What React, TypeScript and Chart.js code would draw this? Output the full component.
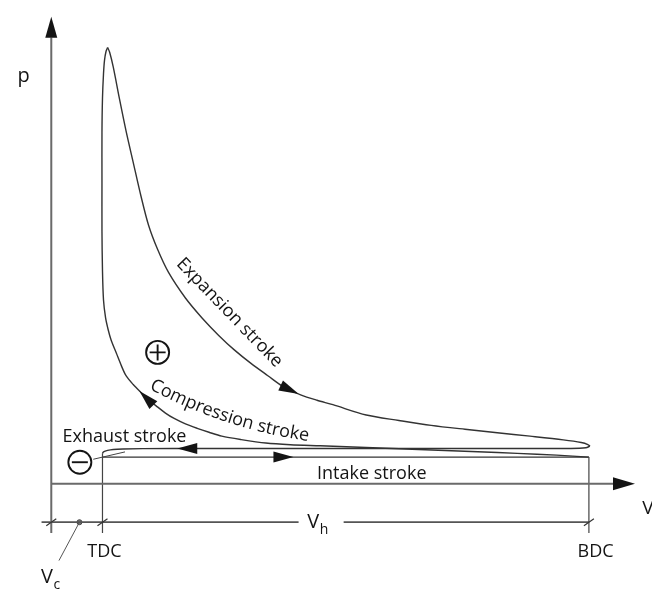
import React, { useEffect, useRef } from "react";
import { Chart, registerables } from "chart.js";

Chart.register(...registerables);

// Volume in multiples of the clearance volume Vc (TDC = 1, BDC = 10.5); pressure in arbitrary units.
const V_TDC = 1;
const V_BDC = 10.5;

// Compression: from BDC up the curve to TDC and the combustion peak
const compressionV = [10.5, 9.87, 9.1, 8.33, 7.56, 6.79, 6.02, 5.25, 4.67, 4.19, 3.71, 3.33, 3.08, 2.85, 2.62, 2.4, 2.23, 2.08, 1.9, 1.75, 1.6, 1.46, 1.37, 1.27, 1.17, 1.11, 1.06, 1.02, 1.0, 0.99, 0.99, 0.99, 1.0, 1.02, 1.04, 1.07, 1.1];
const compressionP = [2.72, 2.92, 3.1, 3.27, 3.42, 3.57, 3.72, 3.87, 3.98, 4.15, 4.5, 4.85, 5.25, 5.65, 6.1, 6.65, 7.2, 7.8, 8.55, 9.3, 10.1, 11.0, 12.0, 13.3, 14.6, 15.7, 16.9, 18.7, 21.7, 25.7, 30.7, 35.7, 39.2, 41.7, 43.1, 44.0, 44.37];

// Expansion: from the peak down to BDC
const expansionV = [1.1, 1.14, 1.21, 1.33, 1.46, 1.6, 1.75, 1.9, 2.08, 2.29, 2.62, 2.94, 3.27, 3.58, 3.9, 4.23, 4.54, 4.87, 5.19, 5.5, 6.15, 6.79, 7.42, 8.08, 8.71, 9.35, 10.0, 10.35, 10.48, 10.52];
const expansionP = [44.37, 43.9, 42.4, 39.2, 35.9, 32.7, 29.3, 26.3, 23.8, 21.5, 18.9, 16.9, 15.1, 13.6, 12.25, 11.0, 9.85, 9.05, 8.5, 8.05, 7.0, 6.45, 5.95, 5.55, 5.2, 4.85, 4.47, 4.2, 4.0, 3.83];

// Exhaust: from BDC back to TDC
const exhaustV = [10.52, 10.44, 10.15, 8.71, 6.79, 4.87, 2.94, 1.79, 1.4, 1.21, 1.1, 1.02, 1.0];
const exhaustP = [3.83, 3.67, 3.6, 3.6, 3.6, 3.6, 3.6, 3.58, 3.55, 3.5, 3.4, 3.25, 3.1];

// Intake: from TDC to BDC
const intakeV = [1.0, 10.5];
const intakeP = [2.72, 2.72];

const strokeLabels = ["Expansion stroke", "Compression stroke", "Exhaust stroke", "Intake stroke"];
const deadCentreLabels = ["TDC", "BDC"];

const DIM_P = -3.9; // level of the dimension line below the V axis
const EXT_P = -5.0; // lower end of the extension lines

const INK = "#141414";
const CURVE = "#333333";
const AXIS = "#6a6a6a";
const FONT = (size: number) => `${size}px "Open Sans", sans-serif`;

const pts = (vs: number[], ps: number[]) => vs.map((v, i) => ({ x: v, y: ps[i] }));

type Label = {
  text: string;
  v: number;
  p: number;
  size: number;
  align?: CanvasTextAlign;
  baseline?: CanvasTextBaseline;
  angle?: number;
  sub?: string;
};

const labels: Label[] = [
  { text: "p", v: -0.66, p: 40.9, size: 20, align: "left" },
  { text: "V", v: 11.54, p: -3.1, size: 19, align: "left" },
  { text: strokeLabels[2], v: 0.22, p: 4.3, size: 18, align: "left" },
  { text: strokeLabels[3], v: 5.19, p: 0.5, size: 18, align: "left" },
  { text: deadCentreLabels[0], v: 1.04, p: -7.4, size: 18, align: "center" },
  { text: deadCentreLabels[1], v: 10.63, p: -7.4, size: 18, align: "center" },
  { text: "V", sub: "h", v: 5.0, p: -4.5, size: 20, align: "left" },
  { text: "V", sub: "c", v: -0.2, p: -10.1, size: 20, align: "left" },
  { text: strokeLabels[0], v: 3.48, p: 17.4, size: 18, align: "center", baseline: "middle", angle: 46 },
];

// Baseline curve for the compression label (quadratic Bezier in V/p units)
const compressionLabelPath = [
  { v: 1.9, p: 9.7 },
  { v: 3.377, p: 5.59 },
  { v: 5.03, p: 4.35 },
];

const curveArrows = [
  { dataset: "expansion", v: 4.83, p: 9.1 },
  { dataset: "compression", v: 1.73, p: 9.5 },
  { dataset: "exhaust", v: 2.46, p: 3.6 },
  { dataset: "intake", v: 4.73, p: 2.72 },
];

const signs = [
  { sign: "+", v: 2.077, p: 13.37 },
  { sign: "-", v: 0.558, p: 2.2 },
];

function arrowHead(ctx: CanvasRenderingContext2D, x: number, y: number, angle: number, len: number, half: number) {
  ctx.save();
  ctx.translate(x, y);
  ctx.rotate(angle);
  ctx.beginPath();
  ctx.moveTo(0, 0);
  ctx.lineTo(-len, -half);
  ctx.lineTo(-len, half);
  ctx.closePath();
  ctx.fill();
  ctx.restore();
}

const diagramPlugin = {
  id: "pvDiagram",
  afterDatasetsDraw(chart: any) {
    const ctx: CanvasRenderingContext2D = chart.ctx;
    const sx = chart.scales.x;
    const sy = chart.scales.y;
    const P = (v: number, p: number) => ({ x: sx.getPixelForValue(v), y: sy.getPixelForValue(p) });
    ctx.save();
    ctx.fillStyle = INK;
    ctx.strokeStyle = INK;

    // axis arrowheads
    const yTip = P(0, 47.5);
    arrowHead(ctx, yTip.x, yTip.y, -Math.PI / 2, 21, 6);
    const xTip = P(11.4, 0);
    arrowHead(ctx, xTip.x, xTip.y, 0, 22, 6.5);

    // arrowheads along the strokes
    curveArrows.forEach((a) => {
      const idx = chart.data.datasets.findIndex((d: any) => d.label === a.dataset);
      const el = chart.getDatasetMeta(idx).data;
      const t = P(a.v, a.p);
      let best = Infinity;
      let bx = t.x, by = t.y, ang = 0;
      for (let i = 0; i < el.length - 1; i++) {
        const x1 = el[i].x, y1 = el[i].y, x2 = el[i + 1].x, y2 = el[i + 1].y;
        const dx = x2 - x1, dy = y2 - y1;
        const l2 = dx * dx + dy * dy || 1;
        const u = Math.max(0, Math.min(1, ((t.x - x1) * dx + (t.y - y1) * dy) / l2));
        const qx = x1 + u * dx, qy = y1 + u * dy;
        const d = Math.hypot(qx - t.x, qy - t.y);
        if (d < best) {
          best = d;
          bx = qx;
          by = qy;
          ang = Math.atan2(dy, dx);
        }
      }
      arrowHead(ctx, bx, by, ang, 20, 5.5);
    });

    // dimension ticks
    ctx.lineWidth = 1.2;
    ctx.strokeStyle = "#333";
    [0, V_TDC, V_BDC].forEach((v) => {
      const q = P(v, DIM_P);
      ctx.beginPath();
      ctx.moveTo(q.x - 5, q.y + 3.5);
      ctx.lineTo(q.x + 5, q.y - 3.5);
      ctx.stroke();
    });

    // plus / minus work areas
    ctx.strokeStyle = INK;
    ctx.lineWidth = 1.9;
    signs.forEach((s) => {
      const c = P(s.v, s.p);
      const r = 11.5;
      ctx.beginPath();
      ctx.arc(c.x, c.y, r, 0, Math.PI * 2);
      ctx.stroke();
      ctx.beginPath();
      ctx.moveTo(c.x - 8, c.y);
      ctx.lineTo(c.x + 8, c.y);
      if (s.sign === "+") {
        ctx.moveTo(c.x, c.y - 8);
        ctx.lineTo(c.x, c.y + 8);
      }
      ctx.stroke();
    });

    // text labels
    ctx.fillStyle = INK;
    labels.forEach((l) => {
      const q = P(l.v, l.p);
      ctx.save();
      ctx.font = FONT(l.size);
      ctx.textAlign = l.align || "left";
      ctx.textBaseline = l.baseline || "alphabetic";
      ctx.translate(q.x, q.y);
      if (l.angle) ctx.rotate((l.angle * Math.PI) / 180);
      ctx.fillText(l.text, 0, 0);
      if (l.sub) {
        const w = ctx.measureText(l.text).width;
        ctx.font = FONT(Math.round(l.size * 0.7));
        ctx.textAlign = "left";
        ctx.fillText(l.sub, w + 0.5, 6);
      }
      ctx.restore();
    });

    // curved compression label
    const [a, b, c] = compressionLabelPath.map((q) => P(q.v, q.p));
    const N = 300;
    const path: { x: number; y: number; s: number }[] = [];
    let acc = 0;
    for (let i = 0; i <= N; i++) {
      const t = i / N;
      const x = (1 - t) * (1 - t) * a.x + 2 * (1 - t) * t * b.x + t * t * c.x;
      const y = (1 - t) * (1 - t) * a.y + 2 * (1 - t) * t * b.y + t * t * c.y;
      if (i > 0) acc += Math.hypot(x - path[i - 1].x, y - path[i - 1].y);
      path.push({ x, y, s: acc });
    }
    ctx.font = FONT(18);
    const text = strokeLabels[1];
    const total = ctx.measureText(text).width;
    let s = (acc - total) / 2;
    for (const ch of text) {
      const w = ctx.measureText(ch).width;
      const mid = s + w / 2;
      let k = 1;
      while (k < path.length - 1 && path[k].s < mid) k++;
      const p0 = path[k - 1], p1 = path[k];
      const f = (mid - p0.s) / (p1.s - p0.s || 1);
      const x = p0.x + f * (p1.x - p0.x);
      const y = p0.y + f * (p1.y - p0.y);
      ctx.save();
      ctx.translate(x, y);
      ctx.rotate(Math.atan2(p1.y - p0.y, p1.x - p0.x));
      ctx.textAlign = "center";
      ctx.textBaseline = "alphabetic";
      ctx.fillText(ch, 0, 0);
      ctx.restore();
      s += w;
    }
    ctx.restore();
  },
};

export default function App() {
  const ref = useRef<HTMLCanvasElement | null>(null);

  useEffect(() => {
    if (!ref.current) return;
    const line = (label: string, data: any[], color: string, width: number, tension = 0) => ({
      label,
      data,
      showLine: true,
      borderColor: color,
      borderWidth: width,
      pointRadius: 0,
      tension,
      fill: false,
    });
    const chart = new Chart(ref.current, {
      type: "scatter",
      data: {
        datasets: [
          line("vAxis", [{ x: 0, y: 0 }, { x: 10.98, y: 0 }], AXIS, 2),
          line("pAxis", [{ x: 0, y: EXT_P }, { x: 0, y: 45.4 }], AXIS, 2),
          line("tdcLine", [{ x: V_TDC, y: 3.1 }, { x: V_TDC, y: EXT_P }], "#444", 1.2),
          line("bdcLine", [{ x: V_BDC, y: 2.72 }, { x: V_BDC, y: EXT_P }], "#444", 1.2),
          line("dimLeft", [{ x: -0.19, y: DIM_P }, { x: 4.83, y: DIM_P }], "#555", 1.7),
          line("dimRight", [{ x: 5.71, y: DIM_P }, { x: V_BDC, y: DIM_P }], "#555", 1.7),
          line("vcLeader", [{ x: 0.55, y: DIM_P }, { x: 0.15, y: -7.8 }], "#555", 1),
          line("minusLeader", [{ x: 0.82, y: 2.5 }, { x: 1.44, y: 3.25 }], "#444", 1),
          {
            label: "vcDot",
            data: [{ x: 0.55, y: DIM_P }],
            pointRadius: 2.5,
            pointBackgroundColor: "#777",
            pointBorderColor: "#444",
            pointBorderWidth: 1,
          },
          line("intake", pts(intakeV, intakeP), CURVE, 1.4),
          line("exhaust", pts(exhaustV, exhaustP), CURVE, 1.4, 0.3),
          line("compression", pts(compressionV, compressionP), CURVE, 1.4, 0.3),
          line("expansion", pts(expansionV, expansionP), CURVE, 1.4, 0.3),
        ],
      },
      options: {
        responsive: false,
        animation: false,
        devicePixelRatio: 1,
        events: [],
        layout: { padding: 0 },
        plugins: { legend: { display: false }, tooltip: { enabled: false } },
        scales: {
          x: { type: "linear", display: false, min: -47 / 52, max: 605 / 52 },
          y: { type: "linear", display: false, min: -11.1, max: 48.7 },
        },
      },
      plugins: [diagramPlugin],
    } as any);
    return () => chart.destroy();
  }, []);

  return (
    <div style={{ position: "fixed", left: 0, top: 0, width: 652, height: 598, background: "#fff" }}>
      <canvas ref={ref} width={652} height={598} />
    </div>
  );
}
